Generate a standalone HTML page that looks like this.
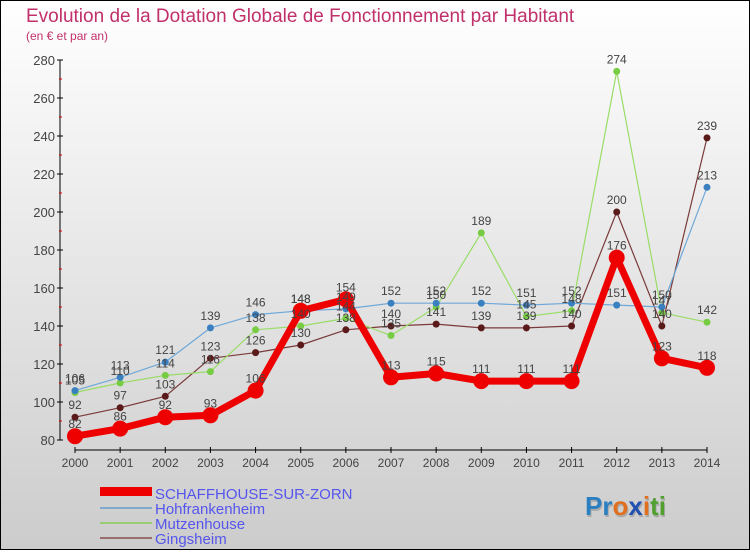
<!DOCTYPE html>
<html><head><meta charset="utf-8"><style>
body{margin:0;width:750px;height:550px;overflow:hidden;font-family:"Liberation Sans",sans-serif}
</style></head><body>
<svg width="750" height="550" font-family="Liberation Sans, sans-serif">
<defs><linearGradient id="bg" x1="0" y1="0" x2="0" y2="1"><stop offset="0" stop-color="#ffffff"/><stop offset="1" stop-color="#cccccc"/></linearGradient></defs>
<rect x="0.5" y="0.5" width="749" height="549" fill="url(#bg)" stroke="#000"/>
<text x="26" y="22" font-size="19" fill="#c0306a">Evolution de la Dotation Globale de Fonctionnement par Habitant</text>
<text x="26" y="40" font-size="12" fill="#c0306a">(en € et par an)</text>
<g id="axes"></g><g id="series"></g><g id="labels"></g>
<g>
<rect x="100" y="487" width="52" height="9" fill="#ee0000"/>
<text x="155" y="499" font-size="15" fill="#5555ee">SCHAFFHOUSE-SUR-ZORN</text>
<rect x="100" y="507" width="52" height="2" fill="#7fa8cc"/>
<text x="155" y="514" font-size="15" fill="#5555ee">Hohfrankenheim</text>
<rect x="100" y="522" width="52" height="2" fill="#99cc77"/>
<text x="155" y="529" font-size="15" fill="#5555ee">Mutzenhouse</text>
<rect x="100" y="537" width="52" height="2" fill="#9b6e6e"/>
<text x="155" y="544" font-size="15" fill="#5555ee">Gingsheim</text>
</g>
<g font-size="26" font-weight="bold">
<text x="586" y="517" fill="#aaa"><tspan>Proxiti</tspan></text>
<text x="585" y="515"><tspan fill="#2a7fc0">Pr</tspan><tspan fill="#e07020">o</tspan><tspan fill="#2050b0">x</tspan><tspan fill="#e07020">i</tspan><tspan fill="#50a030">ti</tspan></text>
</g>
</svg>
<script>
const years=[2000,2001,2002,2003,2004,2005,2006,2007,2008,2009,2010,2011,2012,2013,2014];
const yTicks=[80,100,120,140,160,180,200,220,240,260,280];
const schaffhouse=[82,86,92,93,106,148,154,113,115,111,111,111,176,123,118];
const hohfrankenheim=[106,113,121,139,146,148,149,152,152,152,151,152,151,150,213];
const mutzenhouse=[105,110,114,116,138,140,144,135,150,189,145,148,274,147,142];
const gingsheim=[92,97,103,123,126,130,138,140,141,139,139,140,200,140,239];
const NS='http://www.w3.org/2000/svg';
const xs=i=>75+i*(632/14);
const ys=v=>440-(v-80)*1.9;
function mk(t,a,p){const e=document.createElementNS(NS,t);for(const k in a)e.setAttribute(k,a[k]);p.appendChild(e);return e;}
const ax=document.getElementById('axes');
const yl=mk('line',{x1:60,y1:60,x2:60,y2:440,stroke:'#000','stroke-width':1},ax);


yTicks.forEach(v=>{
 mk('line',{x1:57,x2:63,y1:ys(v),y2:ys(v),stroke:'#000'},ax);
 if(v<280)mk('line',{x1:59,x2:62,y1:ys(v+10),y2:ys(v+10),stroke:'#d00'},ax);
 const t=mk('text',{x:55,y:ys(v)+5,'text-anchor':'end','font-size':13,fill:'#444'},ax);t.textContent=v;
 
 
});
const xl=mk('line',{x1:75,y1:450,x2:707,y2:450,stroke:'#000'},ax);


years.forEach((y,i)=>{
 mk('line',{x1:xs(i),x2:xs(i),y1:447,y2:453,stroke:'#000'},ax);
 const t=mk('text',{x:xs(i),y:467,'text-anchor':'middle','font-size':12,fill:'#444'},ax);t.textContent=y;
 
 
});
const sg=document.getElementById('series'),lg=document.getElementById('labels');
const defs=[
 ['gingsheim',gingsheim,'#7a3a3a','#5a1a1a',1.2,3.5],
 ['mutzenhouse',mutzenhouse,'#99dd66','#77cc44',1.2,3.5],
 ['hohfrankenheim',hohfrankenheim,'#6fa8d8','#3a80c0',1.2,3.5],
 ['schaffhouse',schaffhouse,'#ee0000','#ee0000',7,8]
];
defs.forEach(([n,d,c,pc,w,r])=>{
 const p=mk('polyline',{points:d.map((v,i)=>xs(i)+','+ys(v)).join(' '),fill:'none',stroke:c,'stroke-width':w,'stroke-linejoin':'round'},sg);
 
 
 d.forEach((v,i)=>{
  const ci=mk('circle',{cx:xs(i),cy:ys(v),r:r,fill:pc},sg);
  
  
  const t=mk('text',{x:xs(i),y:ys(v)-8,'text-anchor':'middle','font-size':12,fill:'#444'},lg);t.textContent=v;
  
  
 });
});
</script>
</body></html>
